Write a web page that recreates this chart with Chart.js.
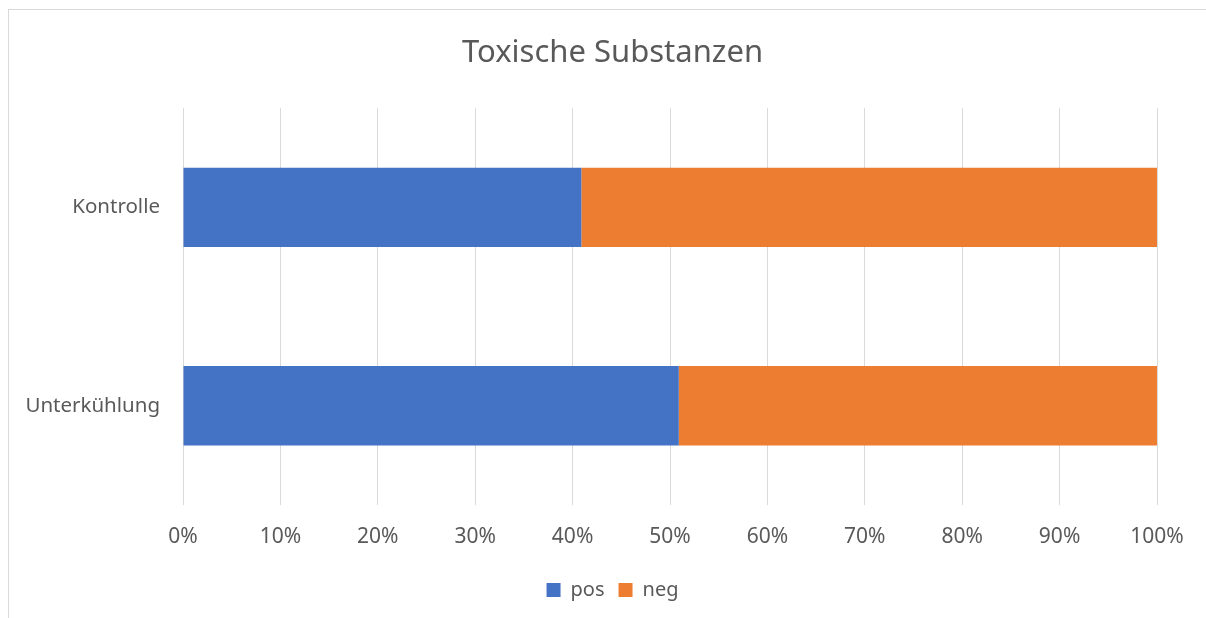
<!DOCTYPE html>
<html>
<head>
<meta charset="utf-8">
<title>Toxische Substanzen</title>
<script src="https://cdn.jsdelivr.net/npm/chart.js"></script>
<style>
  html, body { margin: 0; padding: 0; background: #fff; overflow: hidden; }
  #frame {
    position: absolute; left: 8px; top: 9px; width: 1300px; height: 700px;
    border-top: 1px solid #d9d9d9; border-left: 1px solid #d9d9d9;
  }
  canvas { position: absolute; left: 0; top: 0; }
</style>
</head>
<body>
<div id="frame"></div>
<canvas id="toxChart" width="1206" height="618"></canvas>
<script>
// values (share in percent)
const groups = ["Kontrolle", "Unterkühlung"];
const posShare = [40.9, 50.9];
const negShare = [59.1, 49.1];
const xTickLabels = ["0%", "10%", "20%", "30%", "40%", "50%", "60%", "70%", "80%", "90%", "100%"];

const textGrey = "#595959";
const gridGrey = "#d9d9d9";

Chart.defaults.font.family = "'Noto Sans', sans-serif";
Chart.defaults.color = textGrey;

const ctx = document.getElementById("toxChart").getContext("2d");

new Chart(ctx, {
    type: "bar",
    data: {
        labels: groups,
        datasets: [
            {
                label: "pos",
                data: posShare,
                backgroundColor: "#4472c4",
                barPercentage: 0.4,
                categoryPercentage: 1.0,
            },
            {
                label: "neg",
                data: negShare,
                backgroundColor: "#ed7d31",
                barPercentage: 0.4,
                categoryPercentage: 1.0,
            },
        ],
    },
    options: {
        indexAxis: "y",
        responsive: false,
        animation: false,
        devicePixelRatio: 1,
        layout: { padding: { left: 68, right: 49, top: 0, bottom: 8 } },
        plugins: {
            title: {
                display: true,
                text: "Toxische Substanzen",
                color: textGrey,
                font: { size: 31, weight: "normal" },
                padding: { top: 35, bottom: 36 },
            },
            legend: {
                position: "bottom",
                labels: {
                    boxWidth: 14,
                    boxHeight: 14,
                    padding: 14,
                    color: textGrey,
                    font: { size: 20 },
                },
            },
            tooltip: { enabled: false },
        },
        scales: {
            x: {
                stacked: true,
                min: 0,
                max: 100,
                ticks: {
                    stepSize: 10,
                    padding: 19,
                    font: { size: 21 },
                    callback: (v, i) => xTickLabels[i],
                },
                grid: { color: gridGrey, lineWidth: 1, drawTicks: false },
                border: { display: false },
                afterFit: (scale) => { scale.height = 61; },
            },
            y: {
                stacked: true,
                ticks: { padding: 23, font: { size: 20.5 } },
                grid: { display: false, drawTicks: false },
                border: { display: false },
                afterFit: (scale) => {
                    scale.width = 183 - 68;
                    // long category names reach into the left padding, don't clip them
                    scale._computeLabelArea = () => undefined;
                },
            },
        },
    },
});
</script>
</body>
</html>
